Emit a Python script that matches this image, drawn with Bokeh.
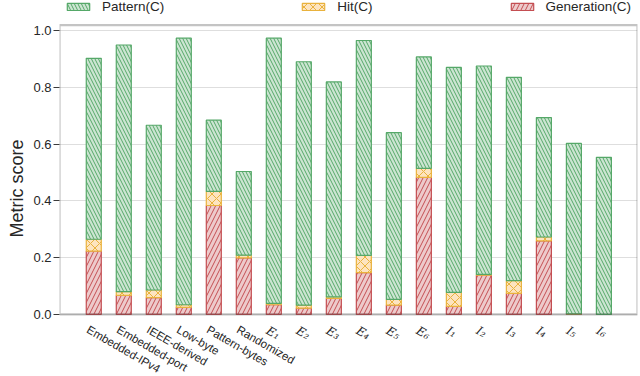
import numpy as np
from bokeh.plotting import figure
from bokeh.core.properties import value
from bokeh.models import (ColumnDataSource, FixedTicker, PrintfTickFormatter,
                          Legend, LegendItem, Range1d, LabelSet, BoxAnnotation, Title)
from bokeh.embed import file_html
from bokeh.resources import INLINE

categories = ["Embedded-IPv4", "Embedded-port", "IEEE-derived", "Low-byte",
              "Pattern-bytes", "Randomized",
              "E\u2081", "E\u2082", "E\u2083", "E\u2084", "E\u2085", "E\u2086",
              "I\u2081", "I\u2082", "I\u2083", "I\u2084", "I\u2085", "I\u2086"]
generation = [0.223, 0.067, 0.059, 0.025, 0.384, 0.199,
              0.034, 0.022, 0.056, 0.147, 0.033, 0.483,
              0.028, 0.138, 0.074, 0.259, 0.002, 0.000]
hit = [0.042, 0.013, 0.027, 0.009, 0.050, 0.010,
       0.005, 0.011, 0.006, 0.061, 0.020, 0.032,
       0.050, 0.003, 0.045, 0.014, 0.000, 0.000]
pattern = [0.638, 0.870, 0.581, 0.940, 0.251, 0.295,
           0.935, 0.858, 0.758, 0.758, 0.588, 0.393,
           0.793, 0.735, 0.717, 0.421, 0.601, 0.554]
y_ticks = [0.0, 0.2, 0.4, 0.6, 0.8, 1.0]

n = len(categories)
x = np.arange(n)
g = np.array(generation)
h = np.array(hit)
pt = np.array(pattern)
src = ColumnDataSource(dict(x=x, g0=np.zeros(n), g1=g, h1=g + h, p1=g + h + pt))

FONT = "Liberation Sans"
TXT = "#262626"
EDGE = "#3a3a3a"

X0, X1 = -1.142, 18.12      # plotted x extent
Y_TOP = 1.02                # top of the axes box
p = figure(width=640, height=376,
           x_range=Range1d(X0, X1), y_range=Range1d(-0.219, 1.107),
           output_backend="svg", toolbar_location=None, x_axis_location=None,
           min_border_left=55, min_border_right=3,
           min_border_top=0, min_border_bottom=0)
p.outline_line_color = None

r_gen = p.vbar(x="x", bottom="g0", top="g1", width=0.5, source=src,
               fill_color="#edcacb", line_color="#c44e52", line_width=1.2,
               hatch_pattern="/", hatch_color="#c44e52", hatch_scale=9, hatch_weight=1)
r_hit = p.vbar(x="x", bottom="g1", top="h1", width=0.5, source=src,
               fill_color="#fde4c0", line_color="#e9b23d", line_width=1.2,
               hatch_pattern="x", hatch_color="#e9b23d", hatch_scale=9, hatch_weight=1)
r_pat = p.vbar(x="x", bottom="h1", top="p1", width=0.5, source=src,
               fill_color="#cce5d2", line_color="#55a868", line_width=1.2,
               hatch_pattern="\\", hatch_color="#55a868", hatch_scale=7, hatch_weight=1)

# axes box
p.add_layout(BoxAnnotation(left=X0, right=X1, bottom=0, top=Y_TOP,
                           fill_alpha=0, line_color=EDGE, line_width=2.2,
                           level="overlay"))

p.xgrid.grid_line_color = None
p.ygrid.ticker = FixedTicker(ticks=y_ticks)
p.ygrid.grid_line_color = "#dedede"
p.ygrid.grid_line_width = 1.2

ya = p.yaxis[0]
ya.ticker = FixedTicker(ticks=y_ticks)
ya.formatter = PrintfTickFormatter(format="%.1f")
ya.major_label_text_font = FONT
ya.major_label_text_font_size = "13px"
ya.major_label_text_color = TXT
ya.major_label_standoff = 2
ya.major_tick_out = 6
ya.major_tick_in = 0
ya.major_tick_line_color = EDGE
ya.major_tick_line_width = 1.2
ya.minor_tick_line_color = None
ya.axis_line_color = None

p.add_layout(Title(text="Metric score", align="center", offset=18, standoff=8,
                   text_font=FONT, text_font_size="18px", text_font_style="normal",
                   text_color=TXT), "left")

# category tick labels, rotated, anchored under each bar
words = [i for i, c in enumerate(categories) if len(c) > 2]
maths = [i for i in range(n) if i not in words]
src_words = ColumnDataSource(dict(x=[int(i) for i in words], y=[0.0] * len(words),
                                  t=[categories[i] for i in words]))
src_maths = ColumnDataSource(dict(x=[int(i) for i in maths], y=[0.0] * len(maths),
                                  t=[categories[i] for i in maths]))
p.add_layout(LabelSet(x="x", y="y", text="t", source=src_words,
                      angle=-0.5236, x_offset=-3, y_offset=-9,
                      text_align="left", text_baseline="top",
                      text_font=value(FONT), text_font_size=value("11.5px"),
                      text_color=TXT))
p.add_layout(LabelSet(x="x", y="y", text="t", source=src_maths,
                      angle=-0.5236, x_offset=-3, y_offset=-9,
                      text_align="left", text_baseline="top",
                      text_font=value("DejaVu Serif"), text_font_style="italic",
                      text_font_size=value("12px"), text_color=TXT))

legend = Legend(items=[LegendItem(label="Pattern(C)", renderers=[r_pat]),
                       LegendItem(label="Hit(C)", renderers=[r_hit]),
                       LegendItem(label="Generation(C)", renderers=[r_gen])],
                orientation="horizontal", location=(5, 362),
                spacing=135, glyph_width=28, glyph_height=9, label_standoff=10,
                label_height=14,
                label_text_font=FONT, label_text_font_size="13.5px",
                label_text_color=TXT, padding=0, margin=0,
                border_line_color=None, background_fill_alpha=0)
p.add_layout(legend)

open("out.html", "w").write(file_html(p, INLINE))
